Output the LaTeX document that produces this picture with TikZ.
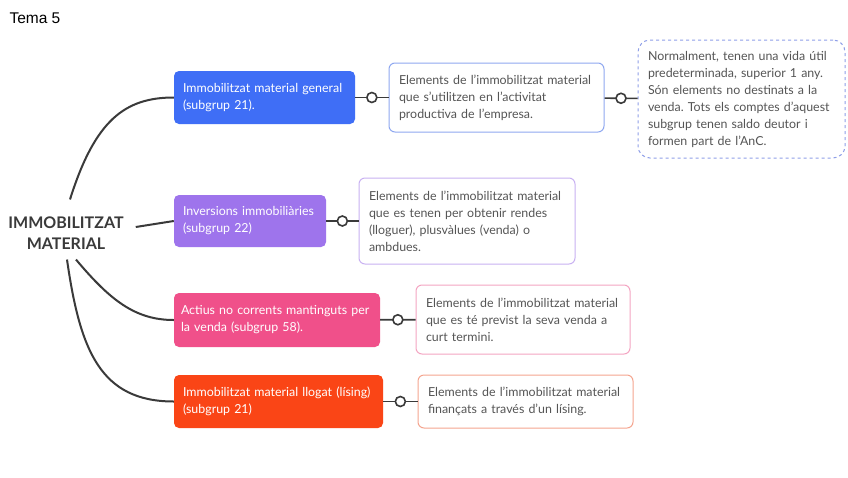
\documentclass[tikz,border=0pt]{standalone}
\usepackage{fontspec}
\setmainfont{Lato}
\newfontfamily\temafont{Liberation Sans}
\usetikzlibrary{positioning}

\definecolor{genblue}{HTML}{3F6EF6}
\definecolor{genline}{HTML}{8FA8F0}
\definecolor{invpurple}{HTML}{9E74EC}
\definecolor{invline}{HTML}{C9B2F2}
\definecolor{actpink}{HTML}{F0508A}
\definecolor{actline}{HTML}{F4A5C2}
\definecolor{llored}{HTML}{FA4516}
\definecolor{lloline}{HTML}{F5A58F}
\definecolor{noteline}{HTML}{8F9FE8}
\definecolor{linkgray}{HTML}{3A3A3A}
\definecolor{textgray}{HTML}{555555}

\tikzset{
    topic/.style={rounded corners=5pt, text=white, align=left, inner sep=9pt,
        font=\fontsize{12.4}{17}\selectfont, anchor=center},
    desc/.style={rounded corners=6pt, draw, line width=1pt, fill=white, text=textgray,
        align=left, inner sep=10pt, font=\fontsize{12.4}{17}\selectfont, anchor=center},
    branch/.style={draw=linkgray, line width=2pt},
    link/.style={draw=linkgray, line width=1.6pt},
    dot/.style={circle, draw=linkgray, line width=1.6pt, fill=white, inner sep=0pt, minimum size=10pt}
}

\begin{document}
\frenchspacing
\begin{tikzpicture}[x=1pt, y=-1pt]

    % Frame of the page
    \useasboundingbox (0,0) rectangle (848,477);
    \fill[white] (0,0) rectangle (848,477);

    % Title
    \node[anchor=west, font=\temafont\fontsize{15.5}{18}\selectfont] (tema) at (6,18) {Tema 5};

    % Central topic
    \node[align=center, text=linkgray, inner sep=2pt,
          font=\bfseries\fontsize{16}{21}\selectfont] (root) at (66,233) {IMMOBILITZAT\\MATERIAL};

    % Main topics
    \node[topic, fill=genblue, minimum width=181pt, minimum height=53pt, text width=163pt]
        (gen) at (264.5,97.5) {Immobilitzat material general\\(subgrup 21).};
    \node[topic, fill=invpurple, minimum width=152pt, minimum height=52pt, text width=134pt]
        (inv) at (250,221) {Inversions immobiliàries\\(subgrup 22)};
    \node[topic, fill=actpink, minimum width=206pt, minimum height=54pt, inner xsep=7pt, text width=192pt]
        (act) at (277,320) {Actius no corrents mantinguts per\\la venda (subgrup 58).};
    \node[topic, fill=llored, minimum width=209pt, minimum height=53pt, text width=191pt]
        (llo) at (278.5,401.5) {Immobilitzat material llogat (lísing)\\(subgrup 21)};

    % Descriptions
    \node[desc, draw=genline, minimum width=215pt, minimum height=69pt, text width=195pt]
        (descgen) at (496.5,97.5) {Elements de l’immobilitzat material\\que s’utilitzen en l’activitat\\productiva de l’empresa.};
    \node[desc, draw=invline, minimum width=216pt, minimum height=86pt, text width=196pt]
        (descinv) at (467,221) {Elements de l’immobilitzat material\\que es tenen per obtenir rendes\\(lloguer), plusvàlues (venda) o\\ambdues.};
    \node[desc, draw=actline, minimum width=214pt, minimum height=69pt, text width=194pt]
        (descact) at (523,319.5) {Elements de l’immobilitzat material\\que es té previst la seva venda a\\curt termini.};
    \node[desc, draw=lloline, minimum width=215pt, minimum height=53pt, text width=195pt]
        (descllo) at (525.5,401.5) {Elements de l’immobilitzat material\\finançats a través d’un lísing.};

    % Note
    \node[desc, draw=noteline, dashed, line width=1pt, rounded corners=12pt,
          minimum width=207pt, minimum height=118pt, text width=187pt]
        (note) at (741.5,99) {Normalment, tenen una vida útil\\predeterminada, superior 1 any.\\Són elements no destinats a la\\venda. Tots els comptes d’aquest\\subgrup tenen saldo deutor i\\formen part de l’AnC.};

    % Branches from the central topic
    \draw[branch] ([shift={(4,-15)}]root.north) .. controls (95,120) and (125,97.5) .. (gen.west);
    \draw[branch] ([shift={(10,-6)}]root.east) -- (inv.west);
    \draw[branch] ([shift={(10,8)}]root.south) .. controls (110,300) and (135,320) .. (act.west);
    \draw[branch] ([shift={(1,8)}]root.south) .. controls (80,350) and (100,401.5) .. (llo.west);

    % Links to the descriptions
    \draw[link] (gen) -- node[dot] {} (descgen);
    \draw[link] (inv) -- node[dot] {} (descinv);
    \draw[link] (act) -- node[dot] {} (descact);
    \draw[link] (llo) -- node[dot] {} (descllo);
    \draw[link] (descgen) -- node[dot] {} (note);

\end{tikzpicture}
\end{document}
